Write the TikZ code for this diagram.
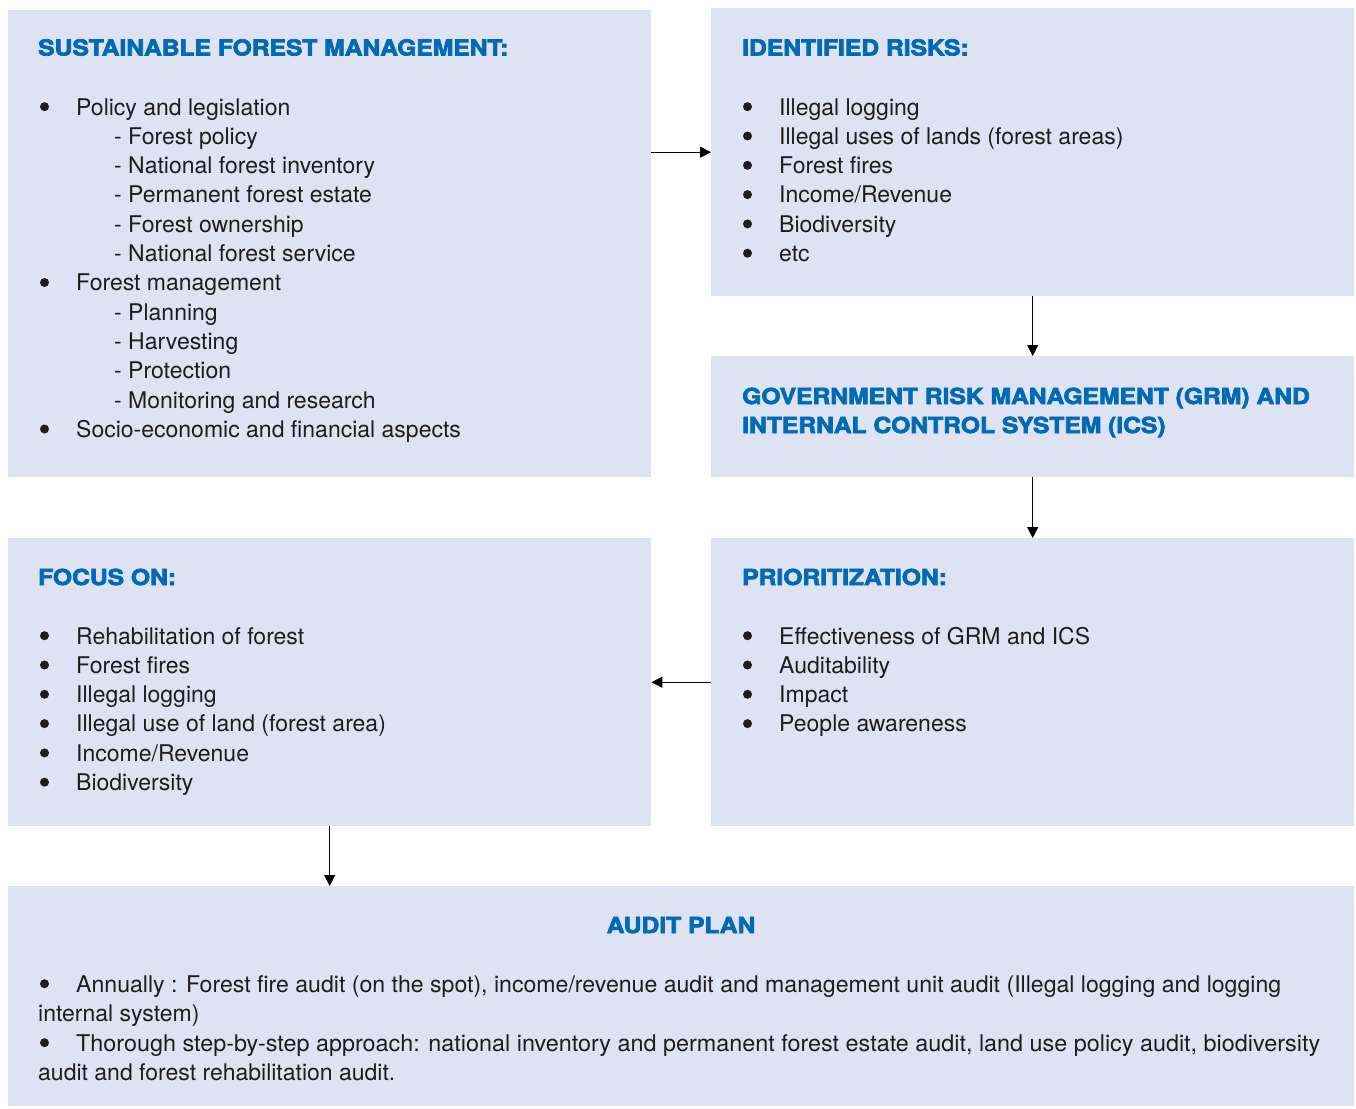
\documentclass[tikz,border=0pt]{standalone}
\usepackage{fontspec}
\setmainfont{TeX Gyre Heros}
\newfontface\ttlfont{texgyreheros-bold.otf}[FakeBold=3]
\usetikzlibrary{arrows.meta}
\definecolor{boxfill}{RGB}{222,227,244}
\definecolor{ttlblue}{RGB}{0,106,180}
\definecolor{ink}{RGB}{30,28,28}
\newcommand{\ttl}[1]{\scalebox{1.12}[1]{#1}}
\begin{document}
\begin{tikzpicture}[x=1pt,y=-1pt,
  box/.style={fill=boxfill, draw=none, inner sep=0pt, anchor=north west},
  ttlnode/.style={anchor=base west, inner sep=0pt, text=ttlblue, font=\fontsize{22}{26}\ttlfont},
  txt/.style={anchor=base west, inner sep=0pt, text=ink, font=\fontsize{23}{29}\selectfont},
  bul/.style={circle, fill=ink, inner sep=0pt, minimum size=9pt},
  arr/.style={-{Triangle[length=11pt,width=11pt]}, line width=1.2pt}]
\useasboundingbox (0,0) rectangle (1356,1108);

% boxes
\node[box, minimum width=643pt, minimum height=467pt] (sfm) at (8,10) {};
\node[box, minimum width=643pt, minimum height=288pt] (ir) at (711,8) {};
\node[box, minimum width=643pt, minimum height=121pt] (grm) at (711,356) {};
\node[box, minimum width=643pt, minimum height=288pt] (foc) at (8,538) {};
\node[box, minimum width=643pt, minimum height=288pt] (pri) at (711,538) {};
\node[box, minimum width=1346pt, minimum height=220pt] (aud) at (8,886) {};

% connectors
\draw[arr] (sfm.east |- ir.west) -- (ir.west);
\draw[arr] (ir.south) -- (grm.north);
\draw[arr] (grm.south) -- (pri.north);
\draw[arr] (pri.west) -- (foc.east);
\draw[arr] (foc.south) -- (aud.north -| foc.south);

% Sustainable forest management
\node[ttlnode] (sfmt) at (38,55.5) {\ttl{SUSTAINABLE FOREST MANAGEMENT:}};
\node[bul] (sb1) at (44.5,106.7) {};
\node[txt] (s1) at (76,115) {Policy and legislation};
\node[txt] (s2) at (114,144.3) {- Forest policy};
\node[txt] (s3) at (114,173.6) {- National forest inventory};
\node[txt] (s4) at (114,202.9) {- Permanent forest estate};
\node[txt] (s5) at (114,232.2) {- Forest ownership};
\node[txt] (s6) at (114,261.5) {- National forest service};
\node[bul] (sb2) at (44.5,282.5) {};
\node[txt] (s7) at (76,290.8) {Forest management};
\node[txt] (s8) at (114,320.1) {- Planning};
\node[txt] (s9) at (114,349.4) {- Harvesting};
\node[txt] (s10) at (114,378.7) {- Protection};
\node[txt] (s11) at (114,408) {- Monitoring and research};
\node[bul] (sb3) at (44.5,429) {};
\node[txt] (s12) at (76,437.3) {Socio-economic and financial aspects};

% Identified risks
\node[ttlnode] (irt) at (742,55.5) {\ttl{IDENTIFIED RISKS:}};
\node[bul] (ib1) at (747.5,106.7) {};
\node[txt] (i1) at (779,115) {Illegal logging};
\node[bul] (ib2) at (747.5,136) {};
\node[txt] (i2) at (779,144.3) {Illegal uses of lands (forest areas)};
\node[bul] (ib3) at (747.5,165.3) {};
\node[txt] (i3) at (779,173.6) {Forest fires};
\node[bul] (ib4) at (747.5,194.6) {};
\node[txt] (i4) at (779,202.9) {Income/Revenue};
\node[bul] (ib5) at (747.5,223.9) {};
\node[txt] (i5) at (779,232.2) {Biodiversity};
\node[bul] (ib6) at (747.5,253.2) {};
\node[txt] (i6) at (779,261.5) {etc};

% GRM
\node[ttlnode] (grmt1) at (742,404) {\ttl{GOVERNMENT RISK MANAGEMENT (GRM) AND}};
\node[ttlnode] (grmt2) at (742,433) {\ttl{INTERNAL CONTROL SYSTEM (ICS)}};

% Focus on
\node[ttlnode] (foct) at (38,585) {\ttl{FOCUS ON:}};
\node[bul] (fb1) at (44.5,635.7) {};
\node[txt] (f1) at (76,644) {Rehabilitation of forest};
\node[bul] (fb2) at (44.5,665) {};
\node[txt] (f2) at (76,673.3) {Forest fires};
\node[bul] (fb3) at (44.5,694.3) {};
\node[txt] (f3) at (76,702.6) {Illegal logging};
\node[bul] (fb4) at (44.5,723.6) {};
\node[txt] (f4) at (76,731.9) {Illegal use of land (forest area)};
\node[bul] (fb5) at (44.5,752.9) {};
\node[txt] (f5) at (76,761.2) {Income/Revenue};
\node[bul] (fb6) at (44.5,782.2) {};
\node[txt] (f6) at (76,790.5) {Biodiversity};

% Prioritization
\node[ttlnode] (prit) at (742,585) {\ttl{PRIORITIZATION:}};
\node[bul] (pb1) at (747.5,635.7) {};
\node[txt] (p1) at (779,644) {Effectiveness of GRM and ICS};
\node[bul] (pb2) at (747.5,665) {};
\node[txt] (p2) at (779,673.3) {Auditability};
\node[bul] (pb3) at (747.5,694.3) {};
\node[txt] (p3) at (779,702.6) {Impact};
\node[bul] (pb4) at (747.5,723.6) {};
\node[txt] (p4) at (779,731.9) {People awareness};

% Audit plan
\node[ttlnode, anchor=base] (audt) at (681,933) {\ttl{AUDIT PLAN}};
\node[bul] (ab1) at (44.5,983.7) {};
\node[txt] (a1) at (76,992) {\resizebox{1205pt}{\height}{Annually : Forest fire audit (on the spot), income/revenue audit and management unit audit (Illegal logging and logging}};
\node[txt] (a2) at (38,1021) {internal system)};
\node[bul] (ab2) at (44.5,1042.7) {};
\node[txt] (a3) at (76,1051) {\resizebox{1244pt}{\height}{Thorough step-by-step approach: national inventory and permanent forest estate audit, land use policy audit, biodiversity}};
\node[txt] (a4) at (38,1080) {audit and forest rehabilitation audit.};
\end{tikzpicture}
\end{document}
